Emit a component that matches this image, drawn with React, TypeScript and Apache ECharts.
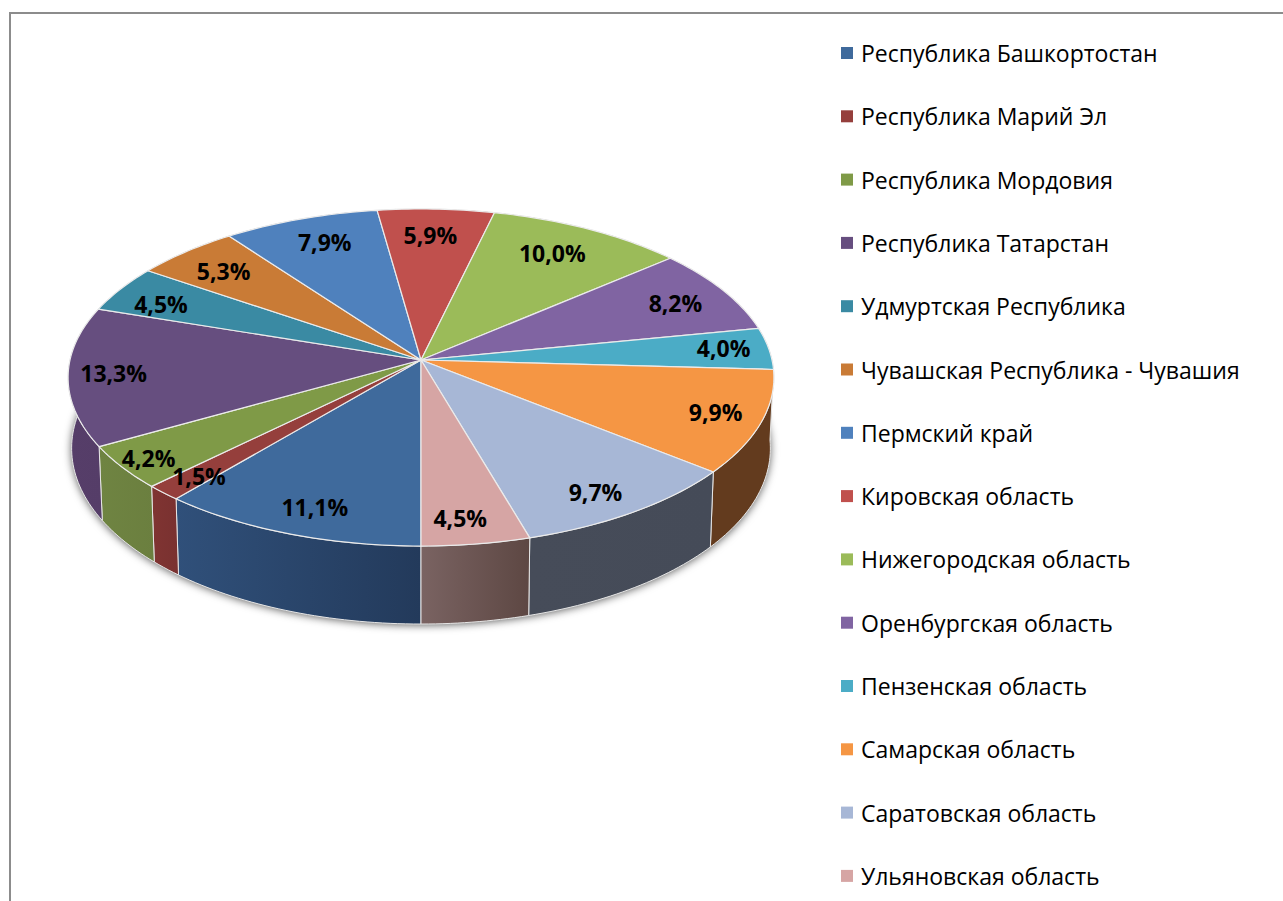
import React, { useEffect, useRef } from "react";
import * as echarts from "echarts";

const categories = [
  "Республика Башкортостан", "Республика Марий Эл", "Республика Мордовия", "Республика Татарстан",
  "Удмуртская Республика", "Чувашская Республика - Чувашия", "Пермский край", "Кировская область",
  "Нижегородская область", "Оренбургская область", "Пензенская область", "Самарская область",
  "Саратовская область", "Ульяновская область",
];
const values = [11.1, 1.5, 4.2, 13.3, 4.5, 5.3, 7.9, 5.9, 10.0, 8.2, 4.0, 9.9, 9.7, 4.5];
const topColors = [
  "#3f6a9c", "#953f3c", "#7f9a47", "#664e7f", "#3a8aa3", "#c97b36", "#4f81bd",
  "#c0504d", "#9bbb59", "#8064a2", "#4bacc6", "#f59644", "#a7b7d6", "#d6a5a4",
];
const wallColorsLeft = [
  "#30507a", "#803432", "#6f8442", "#563e69", "#2c6a7d", "#8a5526", "#36587f",
  "#843735", "#6b813d", "#574569", "#337584", "#633b1e", "#464c59", "#7a6362",
];
const wallColorsRight = [
  "#233a5b", "#793130", "#6b7f3f", "#553d68", "#2c6a7d", "#8a5526", "#36587f",
  "#843735", "#6b813d", "#574569", "#337584", "#633b1e", "#454b58", "#5d4743",
];
// how far along its own radius each percentage label sits, and its small hand placement
const labelRadii = [0.85, 0.875, 0.92, 0.875, 0.85, 0.83, 0.8, 0.81, 0.8, 0.84, 0.91, 0.873, 0.85, 0.87];
const labelNudgeX = [5, 1, 1, 1, -3, 0, 2, -3, -5, -1, -14, -1, -4, -8];
const labelNudgeY = [2, 1, 0, -1, 5, 2, -3, -1, -1, 2, -2, -2, 5, 0];

const FONT = "'Open Sans', sans-serif";
const CX = 421, CY = 360, RX = 351, RY = 166.7, PERSP = 0.1039;

const angleOf = (pct: number) => (pct / 100) * Math.PI * 2;
const topPoint = (t: number, r = 1): number[] => {
  const X = -Math.sin(t), Y = Math.cos(t), d = 1 - PERSP * Y * r;
  return [CX + (RX * X * r) / d, CY + (RY * Y * r) / d];
};
const bottomPoint = (t: number): number[] => {
  const p = topPoint(t);
  return [CX + (p[0] - CX) * 0.99, p[1] + 70 + 8 * Math.cos(t)];
};
const arc = (fn: (t: number) => number[], a: number, b: number): number[][] => {
  const n = Math.max(2, Math.ceil(Math.abs(b - a) / 0.02));
  const out: number[][] = [];
  for (let i = 0; i <= n; i++) out.push(fn(a + ((b - a) * i) / n));
  return out;
};

const starts: number[] = [];
values.reduce((acc, v, i) => { starts[i] = acc; return acc + v; }, 0);

const sliceData = values.map((v, i) => [starts[i], v, i]);

const renderTop = (_: any, api: any) => {
  const a = angleOf(api.value(0)), b = angleOf(api.value(0) + api.value(1));
  return {
    type: "polygon",
    shape: { points: [[CX, CY], ...arc((t) => topPoint(t), a, b)] },
    style: { fill: topColors[api.value(2)], stroke: "#ebebeb", lineWidth: 1.2, lineJoin: "round" },
  };
};
const renderWall = (_: any, api: any) => {
  const a = angleOf(api.value(0)), b = angleOf(api.value(0) + api.value(1));
  const i = api.value(2);
  return {
    type: "polygon",
    shape: { points: [...arc((t) => topPoint(t), a, b), ...arc(bottomPoint, b, a)] },
    style: {
      fill: new echarts.graphic.LinearGradient(0, 0, 1, 0, [
        { offset: 0, color: wallColorsLeft[i] },
        { offset: 1, color: wallColorsRight[i] },
      ]),
      stroke: "#e6e6e6",
      lineWidth: 1,
    },
  };
};
const renderShadow = () => ({
  type: "polygon",
  shape: { points: arc(bottomPoint, 0, Math.PI * 2) },
  style: {
    fill: "#777777",
    shadowBlur: 8,
    shadowColor: "rgba(0,0,0,0.65)",
    shadowOffsetX: 0,
    shadowOffsetY: 1,
  },
});
const renderLabel = (_: any, api: any) => {
  const v = api.value(1);
  const i = api.value(2);
  const p = topPoint(angleOf(api.value(0) + v / 2), labelRadii[i]);
  return {
    type: "text",
    x: p[0] + labelNudgeX[i],
    y: p[1] + labelNudgeY[i],
    style: {
      text: v.toFixed(1).replace(".", ",") + "%",
      fill: "#000000",
      font: `bold 23px ${FONT}`,
      align: "center",
      verticalAlign: "middle",
    },
  };
};

export default function App() {
  const ref = useRef<HTMLDivElement>(null);
  useEffect(() => {
    const chart = echarts.init(ref.current!, undefined, { renderer: "svg" });
    chart.setOption({
      animation: false,
      backgroundColor: "#ffffff",
      legend: {
        data: categories,
        orient: "vertical",
        left: 836,
        top: 35,
        height: 860,
        icon: "rect",
        itemWidth: 12,
        itemHeight: 12,
        itemGap: 37.3,
        selectedMode: false,
        textStyle: { fontFamily: FONT, fontSize: 23, color: "#000000", lineHeight: 26, padding: [0, 0, 0, 3] },
      },
      graphic: [
        { type: "line", shape: { x1: 10, y1: 13, x2: 1283, y2: 13 }, style: { stroke: "#8c8c8c", lineWidth: 2 } },
        { type: "line", shape: { x1: 10, y1: 12, x2: 10, y2: 901 }, style: { stroke: "#8c8c8c", lineWidth: 2 } },
      ],
      series: [
        { type: "custom", name: "shadow", coordinateSystem: "none", silent: true, z: 1, data: [[0]], renderItem: renderShadow },
        { type: "custom", name: "walls", coordinateSystem: "none", silent: true, z: 2, data: sliceData, renderItem: renderWall },
        ...categories.map((name, i) => ({
          type: "custom",
          name,
          coordinateSystem: "none",
          silent: true,
          z: 3,
          itemStyle: { color: topColors[i] },
          data: [sliceData[i]],
          renderItem: renderTop,
        })),
        { type: "custom", name: "labels", coordinateSystem: "none", silent: true, z: 4, data: sliceData, renderItem: renderLabel },
      ],
    });
    return () => chart.dispose();
  }, []);
  return <div ref={ref} style={{ position: "fixed", left: 0, top: 0, width: 1283, height: 901 }} />;
}
